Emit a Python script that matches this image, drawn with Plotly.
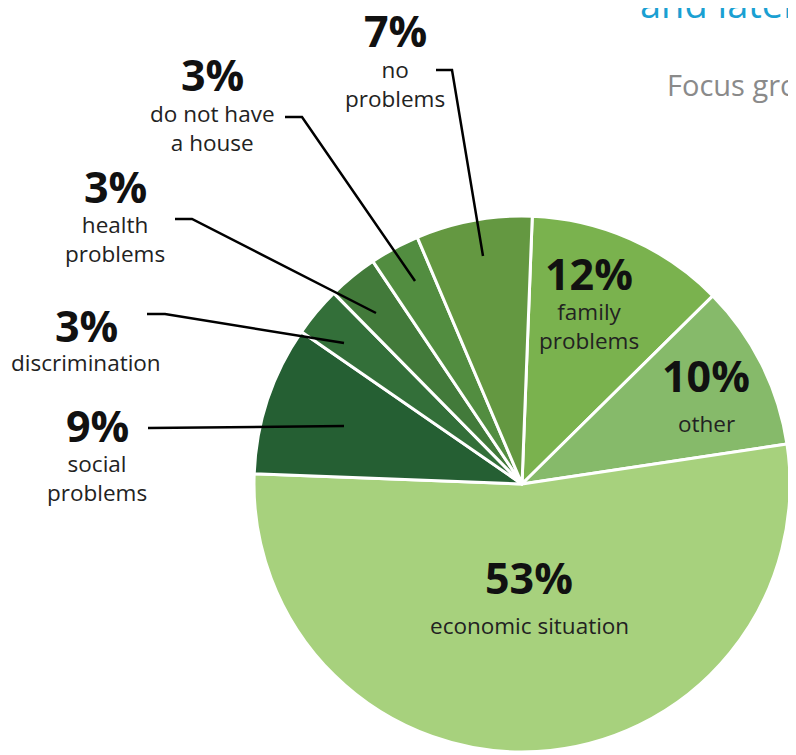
import plotly.graph_objects as go

W, H = 796, 755
OFF = 8  # page body margin in the browser

# ---- data ----
categories = ["family problems", "other", "economic situation", "social problems",
              "discrimination", "health problems", "do not have a house", "no problems"]
values = [12, 10, 53, 9, 3, 3, 3, 7]
pct_labels = ["12%", "10%", "53%", "9%", "3%", "3%", "3%", "7%"]
label_lines = ["family<br>problems", "other", "economic situation", "social<br>problems",
               "discrimination", "health<br>problems", "do not have<br>a house", "no<br>problems"]
colors = ["#7ab24e", "#86ba6a", "#a7d17d", "#255f33", "#336f39", "#427a3a", "#528d40", "#649841"]

# ---- layout helpers (screen pixel -> paper) ----
def px(x):
    return (x - OFF) / W

def py(y):
    return 1 - (y - OFF) / H

cx, cy, r = 522, 484, 268

fig = go.Figure(go.Pie(
    labels=categories, values=values, sort=False, direction="clockwise", rotation=2.2,
    marker=dict(colors=colors, line=dict(color="white", width=3)),
    textinfo="none", hoverinfo="label+percent", showlegend=False,
    domain=dict(x=[px(cx - r), px(cx + r)], y=[py(cy + r), py(cy - r)]),
))

# label positions: (center x, pct center y, label center y)
pos = [
    (589, 273, 326),
    (706, 376, 423),
    (529, 577, 625),
    (97, 425, 478),
    (86, 325, 362),
    (115, 186, 239),
    (212, 75, 128),
    (395, 31, 84),
]

annotations = []
for (x, ypct, ylab), p, lab in zip(pos, pct_labels, label_lines):
    annotations.append(dict(x=px(x), y=py(ypct), xref="paper", yref="paper", text="<b>" + p + "</b>",
                            showarrow=False, xanchor="center", yanchor="middle",
                            font=dict(family="Open Sans", size=43, color="#111111")))
    annotations.append(dict(x=px(x), y=py(ylab), xref="paper", yref="paper", text=lab,
                            showarrow=False, xanchor="center", yanchor="middle",
                            font=dict(family="Open Sans", size=22.5, color="#222222")))

# cut-off page title texts
annotations.append(dict(x=px(638), y=py(3), xref="paper", yref="paper", text="and later",
                        showarrow=False, xanchor="left", yanchor="middle",
                        font=dict(family="Open Sans", size=38, color="#1aa0d2")))
annotations.append(dict(x=px(665), y=py(85), xref="paper", yref="paper", text="Focus groups",
                        showarrow=False, xanchor="left", yanchor="middle",
                        font=dict(family="Open Sans", size=29, color="#8a8a8a")))

# leader lines (screen pixel paths)
leaders = [
    [(148, 428), (344, 426)],
    [(147, 314), (165, 314), (344, 343)],
    [(175, 219), (192, 219), (376, 313)],
    [(285, 117), (302, 117), (415, 281)],
    [(436, 70), (452, 70), (483, 256)],
]
shapes = []
for pts in leaders:
    path = "M " + " L ".join(f"{px(x):.5f},{py(y):.5f}" for x, y in pts)
    shapes.append(dict(type="path", path=path, xref="paper", yref="paper",
                       line=dict(color="black", width=2.5), layer="above"))

fig.update_layout(width=W, height=H, margin=dict(l=0, r=0, t=0, b=0),
                  paper_bgcolor="white", plot_bgcolor="white",
                  annotations=annotations, shapes=shapes)

fig.write_html("out.html")
